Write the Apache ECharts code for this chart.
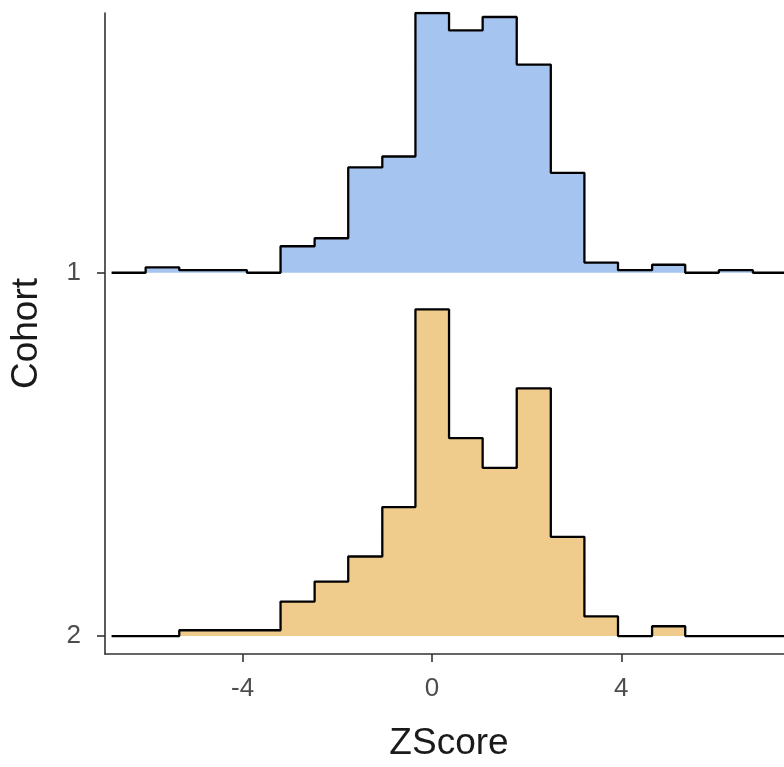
<!DOCTYPE html>
<html>
<head>
<meta charset="utf-8">
<script src="https://cdn.jsdelivr.net/npm/echarts@6/dist/echarts.min.js"></script>
<style>
  html, body { margin: 0; padding: 0; background: #fff; }
  #chart { width: 784px; height: 767px; }
</style>
</head>
<body>
<div id="chart"></div>
<script>
// Histogram bin edges (ZScore)
const binEdges = [-6.77, -6.05, -5.34, -4.63, -3.91, -3.20, -2.48, -1.77, -1.05, -0.35,
                  0.36, 1.07, 1.79, 2.51, 3.22, 3.93, 4.65, 5.35, 6.06, 6.78, 7.49];
// Ridge heights per bin, in percent of the spacing between cohort rows
const cohort1 = [0, 1.5, 0.7, 0.7, 0, 7.3, 9.5, 29.0, 32.0, 71.5,
                 66.7, 70.4, 57.3, 27.5, 2.8, 0.7, 2.2, 0, 0.7, 0];
const cohort2 = [0, 0, 1.6, 1.6, 1.6, 9.5, 15.0, 21.9, 35.5, 89.9,
                 54.5, 46.3, 68.2, 27.3, 5.4, 0, 2.7, 0, 0, 0];
const cohortLabels = ['1', '2'];
const cohortBaselines = [100, 0];
const xTicks = [-4, 0, 4];

const fills = ['#A6C4F0', '#F0CC8C'];
const font = 'Liberation Sans';

// Step outline: one point per left edge, plus the last right edge
function stepPoints(heights, base) {
  const pts = heights.map((h, i) => [binEdges[i], base + h]);
  pts.push([binEdges[binEdges.length - 1], base + heights[heights.length - 1]]);
  return pts;
}

const series = [cohort1, cohort2].map((vals, k) => ({
  type: 'line',
  name: cohortLabels[k],
  step: 'end',
  symbol: 'none',
  silent: true,
  data: stepPoints(vals, cohortBaselines[k]),
  lineStyle: { color: '#000', width: 2.3 },
  areaStyle: { color: fills[k], opacity: 1, origin: cohortBaselines[k] },
  z: 2 + k
}));

const chart = echarts.init(document.getElementById('chart'), null, { renderer: 'canvas' });
chart.setOption({
  animation: false,
  backgroundColor: '#fff',
  grid: { left: 105, top: 13, right: 0, bottom: 111, containLabel: false },
  xAxis: {
    type: 'value',
    min: -6.909,
    max: 7.437,
    name: 'ZScore',
    nameLocation: 'middle',
    nameGap: 71,
    nameTextStyle: { fontFamily: font, fontSize: 37, color: '#1a1a1a', padding: [0, 0, 0, 9] },
    axisLine: { show: true, onZero: false, lineStyle: { color: '#333', width: 1.6 } },
    axisTick: { show: true, length: 8, customValues: xTicks, lineStyle: { color: '#333', width: 1.6 } },
    axisLabel: {
      customValues: xTicks, margin: 22,
      fontFamily: font, fontSize: 26, color: '#4d4d4d'
    },
    splitLine: { show: false }
  },
  yAxis: {
    type: 'value',
    min: -4.94,
    max: 171.5,
    name: 'Cohort',
    nameLocation: 'middle',
    nameGap: 60,
    nameTextStyle: { fontFamily: font, fontSize: 37, color: '#1a1a1a' },
    axisLine: { show: true, onZero: false, lineStyle: { color: '#333', width: 1.6 } },
    axisTick: { show: true, length: 8, customValues: cohortBaselines, lineStyle: { color: '#333', width: 1.6 } },
    axisLabel: {
      customValues: cohortBaselines, margin: 24,
      fontFamily: font, fontSize: 26, color: '#4d4d4d',
      formatter: v => cohortLabels[cohortBaselines.indexOf(v)]
    },
    splitLine: { show: false }
  },
  series: series
});
</script>
</body>
</html>
